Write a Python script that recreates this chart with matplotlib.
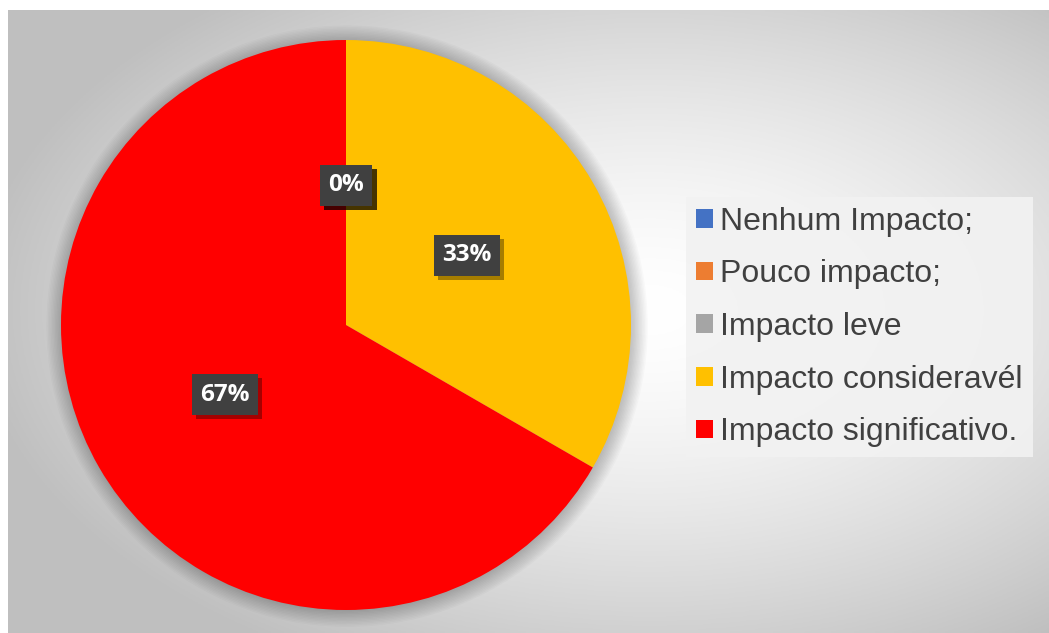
import numpy as np
import matplotlib
matplotlib.use("Agg")
import matplotlib.pyplot as plt
import matplotlib.patheffects as pe
from matplotlib.patches import Circle, Patch

categories = ["Nenhum Impacto;", "Pouco impacto;", "Impacto leve",
              "Impacto consideravél", "Impacto significativo."]
values = [0, 0, 0, 1, 2]
colors = ["#4472C4", "#ED7D31", "#A5A5A5", "#FFC000", "#FF0000"]

W, H = 1049, 633
fig = plt.figure(figsize=(W / 100, H / 100), dpi=100)
fig.patch.set_facecolor("white")

# background with radial gradient
bx0, by0 = 8, 10  # px from left/top
bg = fig.add_axes([bx0 / W, 0, 1 - bx0 / W, 1 - by0 / H])
bg.set_axis_off()
nx, ny = 400, 240
xs = np.linspace(bx0, W, nx)
ys = np.linspace(by0, H, ny)
X, Y = np.meshgrid(xs, ys)
cx, cy = 650, 310
d = np.sqrt(((X - cx) / 680) ** 2 + ((Y - cy) / 400) ** 2)
d = np.clip(d, 0, 1.0)
val = 1.0 - 0.25 * d ** 1.5
img = np.dstack([val, val, val])
bg.imshow(img, extent=[0, 1, 0, 1], aspect="auto", origin="upper")
bg.set_xlim(0, 1)
bg.set_ylim(0, 1)

# pie axes
pcx, pcy, r = 346, 325, 285
ax = fig.add_axes([(pcx - r) / W, (H - pcy - r) / H, 2 * r / W, 2 * r / H])
ax.set_axis_off()
ax.patch.set_alpha(0)

# soft shadow around pie
for i in range(12):
    ax.add_patch(Circle((0.004, -0.004), 1 + 0.005 * i, color="black",
                        alpha=0.02, lw=0, zorder=0, clip_on=False))

wedges, texts, autotexts = ax.pie(
    values, colors=colors, startangle=90, counterclock=False,
    radius=1, autopct=lambda p: f"{p:.0f}%", pctdistance=0.49,
    wedgeprops=dict(linewidth=0),
    textprops=dict(color="white", fontsize=17.5, fontweight="bold",
                   family=["Open Sans", "DejaVu Sans"]))
ax.set_xlim(-1, 1)
ax.set_ylim(-1, 1)
ax.set_aspect("equal")
for w in wedges:
    w.set_zorder(2)
for t in autotexts:
    t.set_zorder(5)
    t.set_bbox(dict(boxstyle="square,pad=0.35", facecolor="#404040",
                    edgecolor="none"))
    t.get_bbox_patch().set_path_effects(
        [pe.SimplePatchShadow(offset=(3, -3), shadow_rgbFace="black", alpha=0.35),
         pe.Normal()])

# legend
handles = [Patch(facecolor=c, edgecolor="none") for c in colors]
leg = fig.legend(handles, categories, loc="upper left",
                 bbox_to_anchor=(686 / W, 1 - 197 / H),
                 frameon=True, fancybox=False,
                 handlelength=0.53, handleheight=0.53, handletextpad=0.25,
                 labelspacing=0.71, borderpad=0.3, borderaxespad=0,
                 prop=dict(family=["Liberation Sans", "DejaVu Sans"], size=23))
leg.get_frame().set_facecolor("#f2f2f2")
leg.get_frame().set_edgecolor("none")
leg.get_frame().set_alpha(0.9)
for t in leg.get_texts():
    t.set_color("#404040")

fig.savefig("out.png", dpi=100, facecolor=fig.get_facecolor())
